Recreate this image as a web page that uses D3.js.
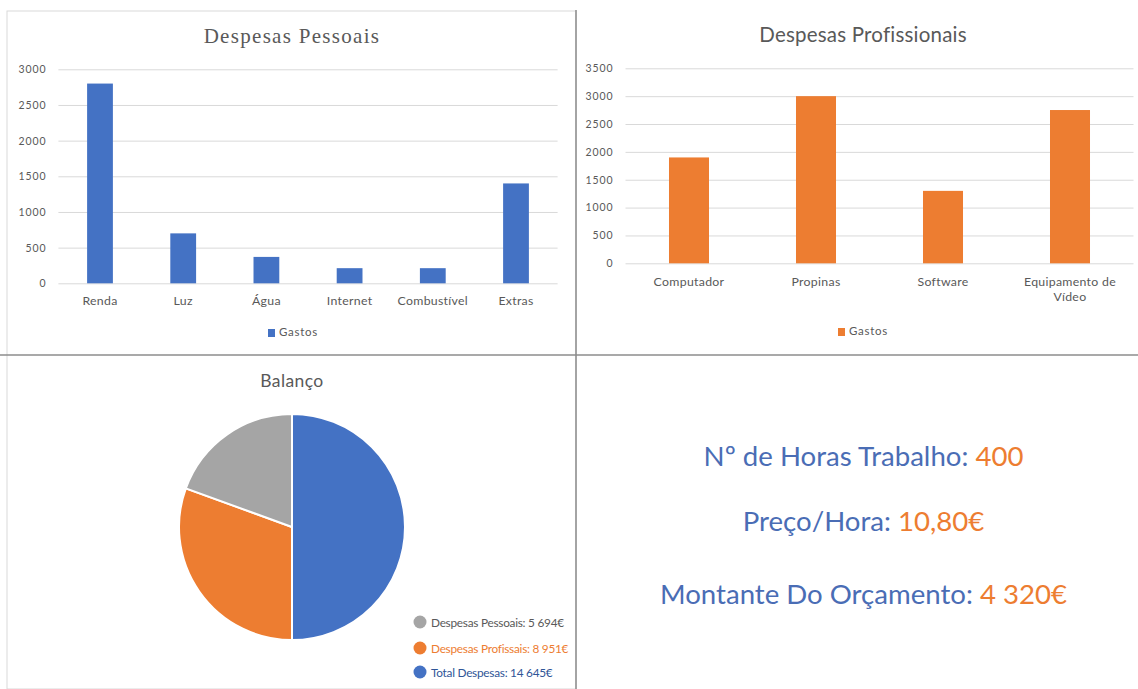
<!DOCTYPE html>
<html>
<head>
<meta charset="utf-8">
<script src="https://cdn.jsdelivr.net/npm/d3@7"></script>
<style>
  body { margin: 0; background: #fff; }
  text { font-family: Lato, "Open Sans", sans-serif; }
</style>
</head>
<body>
<div id="chart"></div>
<script>
// data
const pessoaisCats = ["Renda", "Luz", "Água", "Internet", "Combustível", "Extras"];
const pessoaisVals = [2800, 700, 370, 212, 212, 1400];
const pessoaisTicks = [0, 500, 1000, 1500, 2000, 2500, 3000];

const profCats = ["Computador", "Propinas", "Software", "Equipamento de Vídeo"];
const profVals = [1900, 3000, 1300, 2751];
const profTicks = [0, 500, 1000, 1500, 2000, 2500, 3000, 3500];

const balancoLabels = ["Despesas Pessoais: 5 694€", "Despesas Profissais: 8 951€", "Total Despesas: 14 645€"];
const balancoVals = [5694, 8951, 14645];
const balancoColors = ["#a5a5a5", "#ed7d31", "#4472c4"];
const balancoText = ["#595959", "#ed7d31", "#2f5597"];

const infoLabels = ["Nº de Horas Trabalho: ", "Preço/Hora: ", "Montante Do Orçamento: "];
const infoValues = ["400", "10,80€", "4 320€"];

const W = 1138, H = 689;
const svg = d3.select("#chart").append("svg")
  .attr("width", W).attr("height", H);

// panel frames
svg.append("rect").attr("x", 7).attr("y", 11).attr("width", 569).attr("height", 678)
  .attr("fill", "none").attr("stroke", "#d9d9d9");
svg.append("line").attr("x1", 0).attr("x2", W).attr("y1", 355).attr("y2", 355)
  .attr("stroke", "#8c8c8c").attr("stroke-width", 1.5);
svg.append("line").attr("x1", 576).attr("x2", 576).attr("y1", 10).attr("y2", H)
  .attr("stroke", "#8c8c8c").attr("stroke-width", 1.5);

function barChart(opt) {
  const g = svg.append("g");
  const x = d3.scaleBand().domain(opt.cats).range(opt.xr)
    .paddingInner(opt.pad).paddingOuter(opt.pad / 2);
  const y = d3.scaleLinear().domain([0, d3.max(opt.ticks)]).range(opt.yr);

  const yAxis = d3.axisLeft(y).tickValues(opt.ticks).tickFormat(d3.format("d"))
    .tickSize(-(opt.xr[1] - opt.xr[0])).tickPadding(12);
  const yg = g.append("g").attr("transform", `translate(${opt.xr[0]},0)`).call(yAxis);
  yg.select(".domain").remove();
  yg.selectAll(".tick line").attr("stroke", "#d9d9d9");
  yg.selectAll(".tick text").attr("fill", "#595959")
    .style("font-size", "10.5px").style("letter-spacing", "0.9px");

  g.selectAll(".bar").data(opt.vals).join("rect")
    .attr("class", "bar")
    .attr("x", (d, i) => x(opt.cats[i]))
    .attr("y", d => y(d))
    .attr("width", x.bandwidth())
    .attr("height", d => y(0) - y(d))
    .attr("fill", opt.color);

  const xAxis = d3.axisBottom(x).tickSize(0).tickPadding(opt.xpad);
  const xg = g.append("g").attr("transform", `translate(0,${opt.yr[0]})`).call(xAxis);
  xg.select(".domain").remove();
  xg.selectAll(".tick text").attr("fill", "#595959")
    .style("font-size", "12.3px").style("letter-spacing", "0.3px")
    .each(function(d) {
      if (d.length > 14) {
        const t = d3.select(this), words = d.split(" ");
        t.text(null);
        t.append("tspan").attr("x", 0).attr("dy", "0.71em").text(words.slice(0, 2).join(" "));
        t.append("tspan").attr("x", 0).attr("dy", "1.25em").text(words.slice(2).join(" "));
        t.attr("dy", null);
      }
    });

  g.append("text").attr("x", opt.tx).attr("y", opt.ty).attr("text-anchor", "middle")
    .attr("fill", "#595959").style("font-family", opt.tfont).style("font-size", opt.tsize)
    .style("letter-spacing", opt.tls).text(opt.title);

  // legend
  g.append("rect").attr("x", opt.lx).attr("y", opt.ly - 7).attr("width", 7).attr("height", 8)
    .attr("fill", opt.color);
  g.append("text").attr("x", opt.lx + 11).attr("y", opt.ly).attr("fill", "#595959")
    .style("font-size", "11.5px").style("letter-spacing", "0.7px").text("Gastos");
}

barChart({
  cats: pessoaisCats, vals: pessoaisVals, ticks: pessoaisTicks,
  xr: [58.4, 557.6], yr: [283.3, 69.3], pad: 0.69, color: "#4472c4", xpad: 13,
  title: "Despesas Pessoais", tx: 292, ty: 43, tfont: "'Liberation Serif', serif",
  tsize: "21px", tls: "1.3px", lx: 268, ly: 336
});

barChart({
  cats: profCats, vals: profVals, ticks: profTicks,
  xr: [625.5, 1133.5], yr: [263.3, 68.3], pad: 0.685, color: "#ed7d31", xpad: 14,
  title: "Despesas Profissionais", tx: 863, ty: 42, tfont: "Lato, sans-serif",
  tsize: "20.5px", tls: "0.2px", lx: 838, ly: 335
});

// pie
const pieOrder = [2, 1, 0];
const pie = d3.pie().sort(null).value(i => balancoVals[i]);
const arc = d3.arc().innerRadius(0).outerRadius(113);
const pg = svg.append("g").attr("transform", "translate(292,527)");
pg.selectAll("path").data(pie(pieOrder)).join("path")
  .attr("d", arc)
  .attr("fill", d => balancoColors[d.data])
  .attr("stroke", "#fff").attr("stroke-width", 2);

svg.append("text").attr("x", 292).attr("y", 387).attr("text-anchor", "middle")
  .attr("fill", "#595959").style("font-size", "17.5px").style("letter-spacing", "0.4px")
  .text("Balanço");

const lg = svg.append("g");
balancoLabels.forEach((lab, i) => {
  const cy = [622, 648, 672][i];
  lg.append("circle").attr("cx", 420).attr("cy", cy).attr("r", 6.5).attr("fill", balancoColors[i]);
  lg.append("text").attr("x", 431).attr("y", cy + 4.5).attr("fill", balancoText[i])
    .style("font-size", "11.8px").style("letter-spacing", "-0.25px").text(lab);
});

// info block
const ig = svg.append("g");
infoLabels.forEach((lab, i) => {
  const t = ig.append("text").attr("x", 863.5).attr("y", [466, 531, 604][i])
    .attr("text-anchor", "middle").style("font-size", "27.6px");
  t.append("tspan").attr("fill", "#4a6db5").text(lab);
  t.append("tspan").attr("fill", "#ed7d31").text(infoValues[i]);
});
</script>
</body>
</html>
